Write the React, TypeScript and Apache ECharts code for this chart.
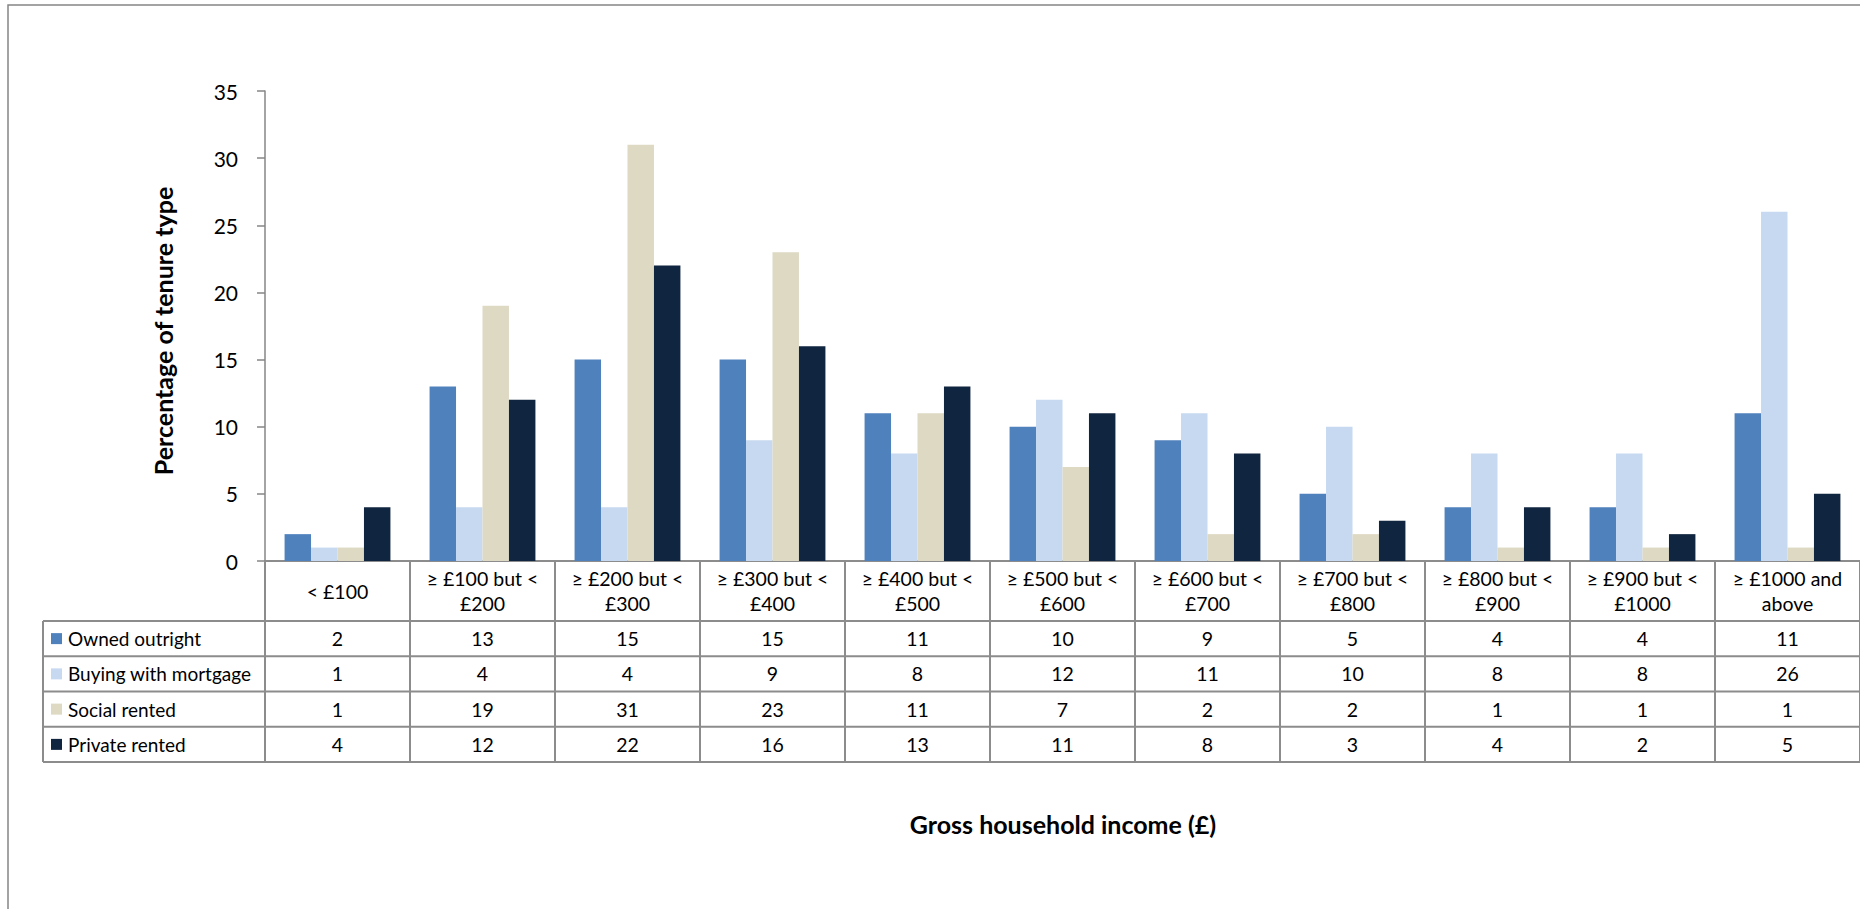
import React, { useEffect, useRef } from "react";
import * as echarts from "echarts";

const categories = [
  "< £100",
  "≥ £100 but <\n£200",
  "≥ £200 but <\n£300",
  "≥ £300 but <\n£400",
  "≥ £400 but <\n£500",
  "≥ £500 but <\n£600",
  "≥ £600 but <\n£700",
  "≥ £700 but <\n£800",
  "≥ £800 but <\n£900",
  "≥ £900 but <\n£1000",
  "≥ £1000 and\nabove",
];
const seriesNames = ["Owned outright", "Buying with mortgage", "Social rented", "Private rented"];
const ownedOutright = [2, 13, 15, 15, 11, 10, 9, 5, 4, 4, 11];
const buyingWithMortgage = [1, 4, 4, 9, 8, 12, 11, 10, 8, 8, 26];
const socialRented = [1, 19, 31, 23, 11, 7, 2, 2, 1, 1, 1];
const privateRented = [4, 12, 22, 16, 13, 11, 8, 3, 4, 2, 5];
const seriesColors = ["#4f81bd", "#c6d9f1", "#ddd9c3", "#10253f"];
const yMax = 35;
const yInterval = 5;
const yTitle = "Percentage of tenure type";
const xTitle = "Gross household income (£)";

const FONT = 'Lato, "Open Sans", sans-serif';
const LINE = "#8c8c8c";

export default function App() {
  const ref = useRef<HTMLDivElement>(null);
  useEffect(() => {
    if (!ref.current) return;
    const chart = echarts.init(ref.current, null, { renderer: "svg" });
    const rows = [ownedOutright, buyingWithMortgage, socialRented, privateRented];

    const gridLeft = 265;
    const gridTop = 91;
    const gridHeight = 470;
    const catW = 145.3;
    const axisY = gridTop + gridHeight;
    const headerH = 60;
    const rowH = 35.25;
    const tableTop = axisY + headerH;
    const tableLeft = 43;
    const tableBottom = tableTop + rowH * 4;
    const rightEdge = 1900;
    const cellFont = 19.5;

    const graphics: any[] = [];
    graphics.push({
      type: "rect",
      shape: { x: 8, y: 5, width: 2000, height: 2000 },
      style: { fill: "none", stroke: "#858585", lineWidth: 1.5 },
      silent: true,
    });
    for (let i = 0; i <= 4; i++) {
      const y = tableTop + i * rowH;
      graphics.push({
        type: "line",
        shape: { x1: tableLeft, y1: y, x2: rightEdge, y2: y },
        style: { stroke: LINE, lineWidth: 2 },
      });
    }
    graphics.push({
      type: "line",
      shape: { x1: tableLeft, y1: tableTop, x2: tableLeft, y2: tableBottom },
      style: { stroke: LINE, lineWidth: 2 },
    });
    seriesNames.forEach((name, i) => {
      const cy = tableTop + rowH * (i + 0.5);
      graphics.push({
        type: "rect",
        shape: { x: 51, y: cy - 5.5, width: 11, height: 11 },
        style: { fill: seriesColors[i] },
      });
      graphics.push({
        type: "text",
        x: 68,
        y: cy,
        style: { text: name, fontSize: 19, fontFamily: FONT, fill: "#000", verticalAlign: "middle", align: "left" },
      });
    });
    graphics.push({
      type: "text",
      x: 162.5,
      y: 331,
      rotation: Math.PI / 2,
      style: { text: yTitle, fontSize: 25, fontWeight: "bold", fontFamily: FONT, fill: "#000", align: "center", verticalAlign: "middle" },
    });
    graphics.push({
      type: "text",
      x: 1063,
      y: 824,
      style: { text: xTitle, fontSize: 25, fontWeight: "bold", fontFamily: FONT, fill: "#000", align: "center", verticalAlign: "middle" },
    });

    const xAxes: any[] = [
      {
        type: "category",
        data: categories,
        position: "bottom",
        axisLine: { onZero: false, lineStyle: { color: LINE, width: 2 } },
        axisTick: { show: true, interval: 0, length: headerH + rowH * 4, lineStyle: { color: LINE, width: 2 } },
        axisLabel: {
          interval: 0,
          margin: headerH / 2,
          verticalAlign: "middle",
          fontSize: cellFont,
          lineHeight: 25,
          color: "#000",
          fontFamily: FONT,
        },
      },
    ];
    rows.forEach((vals, i) => {
      xAxes.push({
        type: "category",
        data: categories,
        position: "bottom",
        offset: headerH + rowH * (i + 0.5),
        axisLine: { show: false, onZero: false },
        axisTick: { show: false },
        axisLabel: {
          interval: 0,
          margin: 0,
          verticalAlign: "middle",
          fontSize: cellFont,
          color: "#000",
          fontFamily: FONT,
          formatter: (_v: string, idx: number) => String(vals[idx]),
        },
      });
    });

    chart.setOption({
      animation: false,
      backgroundColor: "#fff",
      grid: { left: gridLeft, top: gridTop, width: catW * categories.length, height: gridHeight, containLabel: false },
      xAxis: xAxes,
      yAxis: {
        type: "value",
        min: 0,
        max: yMax,
        interval: yInterval,
        axisLine: { show: true, lineStyle: { color: "#868686", width: 1.5 } },
        axisTick: { show: true, length: 8, lineStyle: { color: "#868686", width: 1.5 } },
        splitLine: { show: false },
        axisLabel: { fontSize: 21, color: "#000", fontFamily: FONT, margin: 27 },
      },
      series: rows.map((vals, i) => ({
        name: seriesNames[i],
        type: "bar",
        xAxisIndex: 0,
        data: vals,
        barGap: "0%",
        barCategoryGap: "27%",
        itemStyle: { color: seriesColors[i] },
      })),
      graphic: graphics,
    });
    return () => chart.dispose();
  }, []);
  return <div ref={ref} style={{ position: "fixed", left: 0, top: 0, width: 1860, height: 909, background: "#fff" }} />;
}
